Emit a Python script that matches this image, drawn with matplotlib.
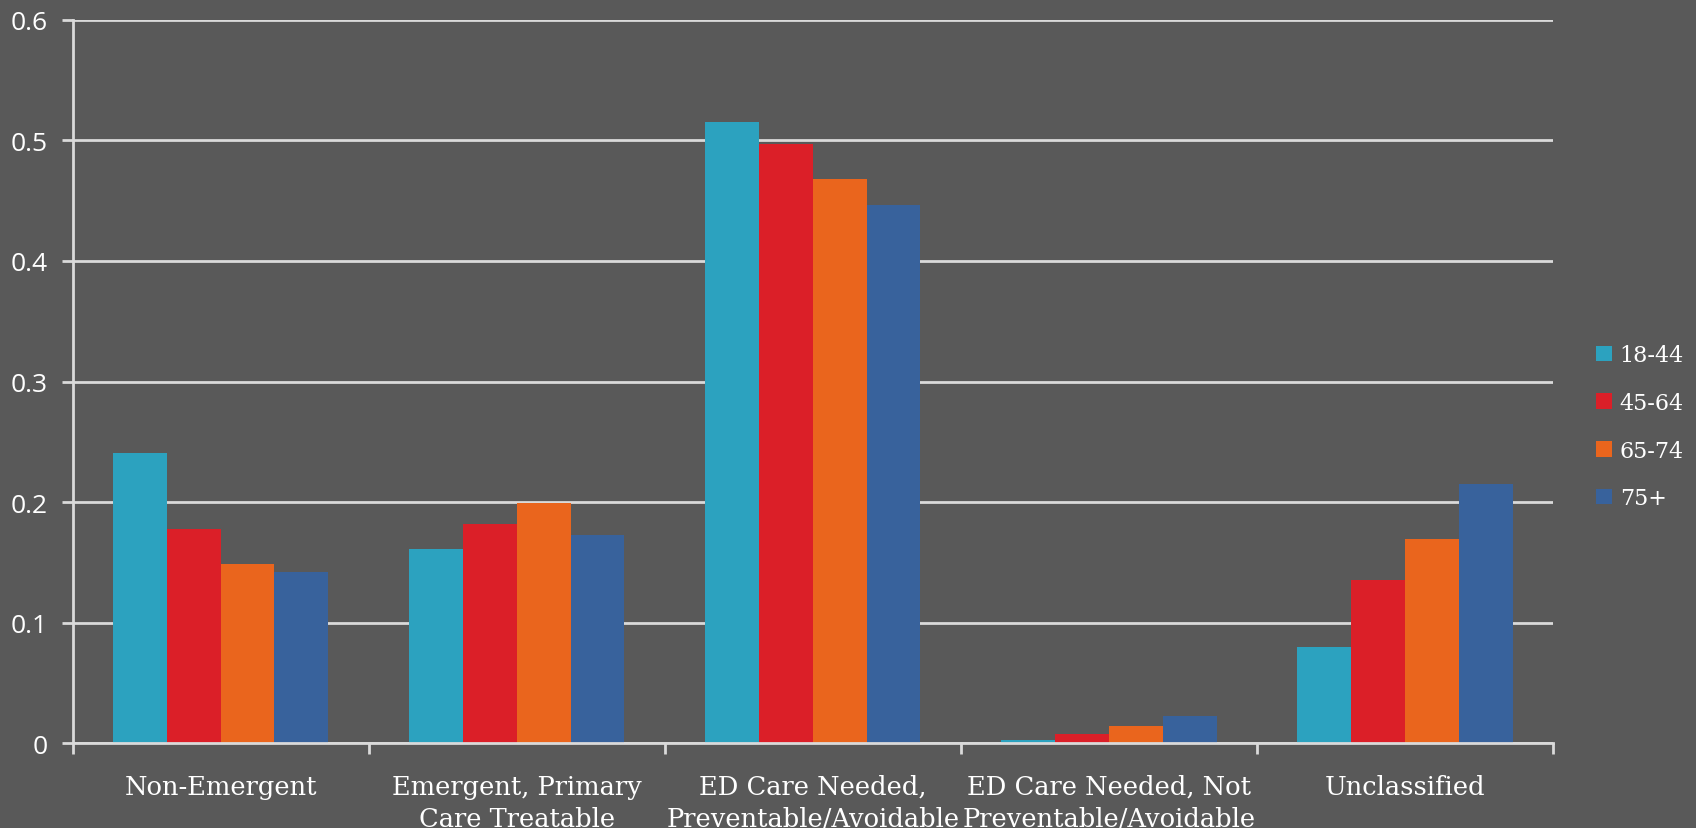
import matplotlib
matplotlib.use('Agg')
import matplotlib.pyplot as plt
import numpy as np
from matplotlib.patches import Patch

# share of ED visits by classification, per age band
categories = ['Non-Emergent',
              'Emergent, Primary\nCare Treatable',
              'ED Care Needed,\nPreventable/Avoidable',
              'ED Care Needed, Not\nPreventable/Avoidable',
              'Unclassified']
age_groups = ['18-44', '45-64', '65-74', '75+']
age_18_44 = [0.241, 0.161, 0.515, 0.0027, 0.080]
age_45_64 = [0.178, 0.182, 0.497, 0.0077, 0.135]
age_65_74 = [0.149, 0.1995, 0.468, 0.0143, 0.169]
age_75_up = [0.142, 0.1725, 0.446, 0.0229, 0.215]
y_ticks = [0, 0.1, 0.2, 0.3, 0.4, 0.5, 0.6]

series = [age_18_44, age_45_64, age_65_74, age_75_up]
colors = ['#2ca2bf', '#db1f28', '#ea651d', '#38629c']

bg = '#595959'
line_col = '#dadada'
serif = ['DejaVu Serif Condensed', 'DejaVu Serif']
sans = ['Open Sans', 'DejaVu Sans']

fig = plt.figure(figsize=(16.96, 8.29), dpi=100, facecolor=bg)
ax = fig.add_axes([0.0428, 0.1022, 0.9157 - 0.0428, 0.975 - 0.1022])
ax.set_facecolor(bg)

x = np.arange(len(categories))
w = 1 / 5.5
for i, (vals, c) in enumerate(zip(series, colors)):
    ax.bar(x + (i - 1.5) * w, vals, width=w, color=c, zorder=3)

ax.set_xlim(-0.5, len(categories) - 0.5)
ax.set_ylim(0, 0.6)

ax.set_yticks(y_ticks)
ax.set_yticklabels([f'{v:g}' for v in y_ticks], fontsize=19, family=sans, color='white')
ax.grid(axis='y', color=line_col, lw=2, zorder=1)
ax.tick_params(axis='y', length=8, width=2, color=line_col, pad=10)

ax.set_xticks(x)
ax.set_xticklabels(categories, fontsize=18.5, family=serif, color='white',
                   linespacing=1.35, va='top')
ax.tick_params(axis='x', which='major', length=0, pad=22)
ax.set_xticks(np.arange(-0.5, len(categories)), minor=True)
ax.tick_params(axis='x', which='minor', length=8, width=2, color=line_col)

for s in ['top', 'right']:
    ax.spines[s].set_visible(False)
for s in ['left', 'bottom']:
    ax.spines[s].set_color(line_col)
    ax.spines[s].set_linewidth(2)
    ax.spines[s].set_zorder(4)

handles = [Patch(facecolor=c, edgecolor='none') for c in colors]
leg = fig.legend(handles, age_groups, loc='center left', bbox_to_anchor=(0.9295, 0.484),
                 frameon=False, handlelength=0.7, handleheight=0.7, handletextpad=0.35,
                 labelspacing=1.16, prop={'family': serif, 'size': 16})
for t in leg.get_texts():
    t.set_color('white')

plt.savefig('out.png', dpi=100, facecolor=bg)
